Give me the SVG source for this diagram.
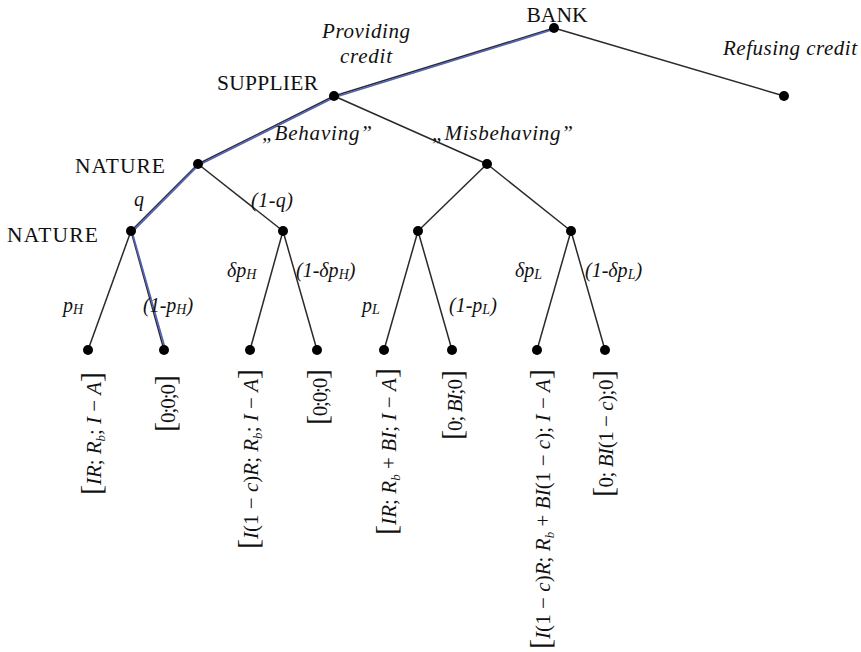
<svg xmlns="http://www.w3.org/2000/svg" width="861" height="652" viewBox="0 0 861 652">
<style>
.e{stroke:#2a2a2a;stroke-width:1.5;fill:none}
.hl{stroke:#5562b5;stroke-width:1.8;fill:none;stroke-linejoin:round}
.d{fill:#000}
.up{font-family:"Liberation Serif","Times New Roman",serif;font-size:21.5px;fill:#111}
.it{font-family:"Liberation Serif","Times New Roman",serif;font-size:21px;font-style:italic;fill:#111}
.pr{font-family:"Liberation Serif","Times New Roman",serif;font-size:20px;font-style:italic;fill:#111}
.sb{font-size:14px}
.m{font-family:"Liberation Serif","Times New Roman",serif;font-size:21px;fill:#111}
.m .v{font-style:italic}
.m .br{font-size:30px}
.m .s{font-size:13px;font-style:italic}
</style>
<rect width="861" height="652" fill="#fff"/>
<g id="connectors">
<line class="e" x1="554" y1="28" x2="334" y2="96"/>
<line class="e" x1="554" y1="28" x2="784" y2="96"/>
<line class="e" x1="334" y1="96" x2="198" y2="164"/>
<line class="e" x1="334" y1="96" x2="487" y2="164"/>
<line class="e" x1="198" y1="164" x2="131" y2="231"/>
<line class="e" x1="198" y1="164" x2="283" y2="231"/>
<line class="e" x1="487" y1="164" x2="418" y2="231"/>
<line class="e" x1="487" y1="164" x2="571" y2="231"/>
<line class="e" x1="131" y1="231" x2="88" y2="350"/>
<line class="e" x1="131" y1="231" x2="164" y2="350"/>
<line class="e" x1="283" y1="231" x2="250" y2="350"/>
<line class="e" x1="283" y1="231" x2="317" y2="350"/>
<line class="e" x1="418" y1="231" x2="384" y2="350"/>
<line class="e" x1="418" y1="231" x2="452" y2="350"/>
<line class="e" x1="571" y1="231" x2="537" y2="350"/>
<line class="e" x1="571" y1="231" x2="605" y2="350"/>
<polyline class="hl" points="553,29.5 334,97.5 198,165.5 132,232 165.5,350"/>
</g>
<g id="bank"><circle class="d" cx="554" cy="28" r="5"/><text class="up" x="557" y="22" text-anchor="middle" textLength="61">BANK</text></g>
<g id="refuse"><circle class="d" cx="784" cy="96" r="5"/><text class="it" x="723" y="55" textLength="134">Refusing credit</text></g>
<g id="supplier"><circle class="d" cx="334" cy="96" r="5"/><text class="up" x="217" y="90" textLength="101">SUPPLIER</text></g>
<g id="nature1"><circle class="d" cx="198" cy="164" r="5"/><text class="up" x="75" y="173" textLength="90">NATURE</text></g>
<g id="misbehave"><circle class="d" cx="487" cy="164" r="5"/></g>
<g id="nature2"><circle class="d" cx="131" cy="231" r="5"/><text class="up" x="7" y="242" textLength="91">NATURE</text></g>
<g id="nodeB"><circle class="d" cx="283" cy="231" r="5"/></g>
<g id="nodeC"><circle class="d" cx="418" cy="231" r="5"/></g>
<g id="nodeD"><circle class="d" cx="571" cy="231" r="5"/></g>
<g id="edge-labels">
<text class="it" x="322" y="38" textLength="88">Providing</text>
<text class="it" x="340" y="63" textLength="52">credit</text>
<text class="it" x="262" y="140" textLength="110">„Behaving”</text>
<text class="it" x="432" y="140" textLength="141">„Misbehaving”</text>
<text class="pr" x="134" y="206">q</text>
<text class="pr" x="251" y="207" textLength="42">(1-q)</text>
<text class="pr" x="63" y="312">p<tspan class="sb" dy="2">H</tspan></text>
<text class="pr" x="143" y="312">(1-p<tspan class="sb" dy="2">H</tspan><tspan dy="-2">)</tspan></text>
<text class="pr" x="227" y="277">δp<tspan class="sb" dy="2">H</tspan></text>
<text class="pr" x="296" y="277">(1-δp<tspan class="sb" dy="2">H</tspan><tspan dy="-2">)</tspan></text>
<text class="pr" x="362" y="312">p<tspan class="sb" dy="2">L</tspan></text>
<text class="pr" x="449" y="312">(1-p<tspan class="sb" dy="2">L</tspan><tspan dy="-2">)</tspan></text>
<text class="pr" x="515" y="277">δp<tspan class="sb" dy="2">L</tspan></text>
<text class="pr" x="585" y="277">(1-δp<tspan class="sb" dy="2">L</tspan><tspan dy="-2">)</tspan></text>
</g>
<g id="leaf1"><circle class="d" cx="88" cy="350" r="5"/>
<text class="m" transform="translate(101,372) rotate(-90)" text-anchor="end" textLength="123"><tspan class="br">[</tspan><tspan class="v">IR</tspan>; <tspan class="v">R</tspan><tspan class="s" dy="4">b</tspan><tspan dy="-4">; </tspan><tspan class="v">I</tspan> − <tspan class="v">A</tspan><tspan class="br">]</tspan></text></g>
<g id="leaf2"><circle class="d" cx="164" cy="350" r="5"/>
<text class="m" transform="translate(175,375) rotate(-90)" text-anchor="end" textLength="57"><tspan class="br">[</tspan>0;0;0<tspan class="br">]</tspan></text></g>
<g id="leaf3"><circle class="d" cx="250" cy="350" r="5"/>
<text class="m" transform="translate(258,369) rotate(-90)" text-anchor="end" textLength="180"><tspan class="br">[</tspan><tspan class="v">I</tspan>(1 − <tspan class="v">c</tspan>)<tspan class="v">R</tspan>; <tspan class="v">R</tspan><tspan class="s" dy="4">b</tspan><tspan dy="-4">; </tspan><tspan class="v">I</tspan> − <tspan class="v">A</tspan><tspan class="br">]</tspan></text></g>
<g id="leaf4"><circle class="d" cx="317" cy="350" r="5"/>
<text class="m" transform="translate(327,369) rotate(-90)" text-anchor="end" textLength="56"><tspan class="br">[</tspan>0;0;0<tspan class="br">]</tspan></text></g>
<g id="leaf5"><circle class="d" cx="384" cy="350" r="5"/>
<text class="m" transform="translate(396,368) rotate(-90)" text-anchor="end" textLength="167"><tspan class="br">[</tspan><tspan class="v">IR</tspan>; <tspan class="v">R</tspan><tspan class="s" dy="4">b</tspan><tspan dy="-4"> + </tspan><tspan class="v">BI</tspan>; <tspan class="v">I</tspan> − <tspan class="v">A</tspan><tspan class="br">]</tspan></text></g>
<g id="leaf6"><circle class="d" cx="452" cy="350" r="5"/>
<text class="m" transform="translate(462,370) rotate(-90)" text-anchor="end" textLength="70"><tspan class="br">[</tspan>0; <tspan class="v">BI</tspan>;0<tspan class="br">]</tspan></text></g>
<g id="leaf7"><circle class="d" cx="537" cy="350" r="5"/>
<text class="m" transform="translate(550,369) rotate(-90)" text-anchor="end" textLength="280"><tspan class="br">[</tspan><tspan class="v">I</tspan>(1 − <tspan class="v">c</tspan>)<tspan class="v">R</tspan>; <tspan class="v">R</tspan><tspan class="s" dy="4">b</tspan><tspan dy="-4"> + </tspan><tspan class="v">BI</tspan>(1 − <tspan class="v">c</tspan>); <tspan class="v">I</tspan> − <tspan class="v">A</tspan><tspan class="br">]</tspan></text></g>
<g id="leaf8"><circle class="d" cx="605" cy="350" r="5"/>
<text class="m" transform="translate(613,370) rotate(-90)" text-anchor="end" textLength="127"><tspan class="br">[</tspan>0; <tspan class="v">BI</tspan>(1 − <tspan class="v">c</tspan>);0<tspan class="br">]</tspan></text></g>
</svg>
